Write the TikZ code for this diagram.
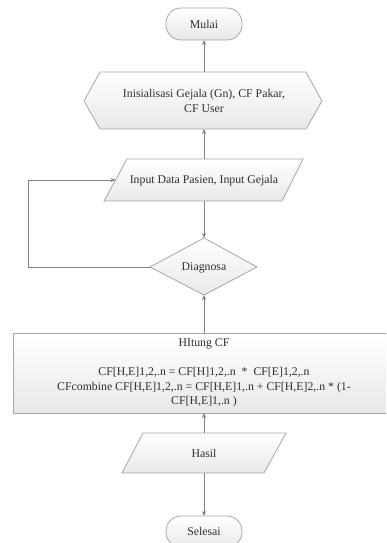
\documentclass[tikz,border=0pt]{standalone}
\usepackage{fontspec}
\setmainfont{Liberation Serif}
\usetikzlibrary{arrows.meta}
\definecolor{edgec}{HTML}{A6A6A6}
\definecolor{linec}{HTML}{808080}
\definecolor{textc}{HTML}{2E2E2E}
\tikzset{
  shapebox/.style={draw=edgec, line width=0.8pt, top color=white, bottom color=black!9},
  lbl/.style={text=textc, font=\fontsize{11.8}{14.5}\selectfont, align=center, inner sep=0pt},
  conn/.style={draw=linec, line width=0.8pt, -{Stealth[length=5pt,width=4pt]}},
  plain/.style={draw=linec, line width=0.8pt}
}
\begin{document}
\begin{tikzpicture}[x=1pt,y=-1pt]
\clip (0,0) rectangle (386,543);
\fill[white] (0,0) rectangle (386,543);
% Mulai
\path[shapebox, rounded corners=15pt] (166,8) rectangle (242,40);
\node[lbl] (mulai) at (204,24) {Mulai};
\coordinate (mulai-s) at (204,40);
% Inisialisasi
\path[shapebox] (84,101) -- (100,72) -- (306,72) -- (322,101) -- (306,129) -- (100,129) -- cycle;
\node[lbl] (init) at (204,101) {Inisialisasi Gejala (Gn), CF Pakar,\\CF User};
\coordinate (init-n) at (204,72);
\coordinate (init-s) at (204,129);
% Input
\path[shapebox] (127,159) -- (303,159) -- (282,201) -- (104,201) -- cycle;
\node[lbl] (input) at (204,181) {Input Data Pasien, Input Gejala};
\coordinate (input-n) at (204,159);
\coordinate (input-s) at (204,201);
\coordinate (input-w) at (115.5,180);
% Diagnosa
\path[shapebox] (204,238) -- (257,267) -- (204,295) -- (150,267) -- cycle;
\node[lbl] (diag) at (204,268) {Diagnosa};
\coordinate (diag-n) at (204,238);
\coordinate (diag-s) at (204,295);
\coordinate (diag-w) at (150,267);
\coordinate (loopa) at (28,267);
\coordinate (loopb) at (28,180);
% Hitung CF
\path[shapebox] (13,333) rectangle (392,413);
\node[lbl] (hitung) at (204,373) {HItung CF\\\mbox{}\\CF[H,E]1,2,.n = CF[H]1,2,.n \ * \ CF[E]1,2,.n\\CFcombine CF[H,E]1,2,.n = CF[H,E]1,.n + CF[H,E]2,.n * (1-\\CF[H,E]1,.n )};
\coordinate (hitung-n) at (204,333);
\coordinate (hitung-s) at (204,413);
% Hasil
\path[shapebox] (143,433) -- (286,433) -- (264,473) -- (122,473) -- cycle;
\node[lbl] (hasil) at (204,453) {Hasil};
\coordinate (hasil-n) at (204,433);
\coordinate (hasil-s) at (204,473);
% Selesai
\path[shapebox, rounded corners=15pt] (166,516) rectangle (242,547);
\node[lbl] (selesai) at (204,531) {Selesai};
\coordinate (selesai-n) at (204,516);
% connectors
\draw[conn] (init-n) -- (mulai-s);
\draw[conn] (input-n) -- (init-s);
\draw[conn] (input-s) -- (diag-n);
\draw[conn] (diag-w) -- (loopa) -- (loopb) -- (input-w);
\draw[conn] (hitung-n) -- (diag-s);
\draw[conn] (hasil-n) -- (hitung-s);
\draw[conn] (hasil-s) -- (selesai-n);
\end{tikzpicture}
\end{document}
